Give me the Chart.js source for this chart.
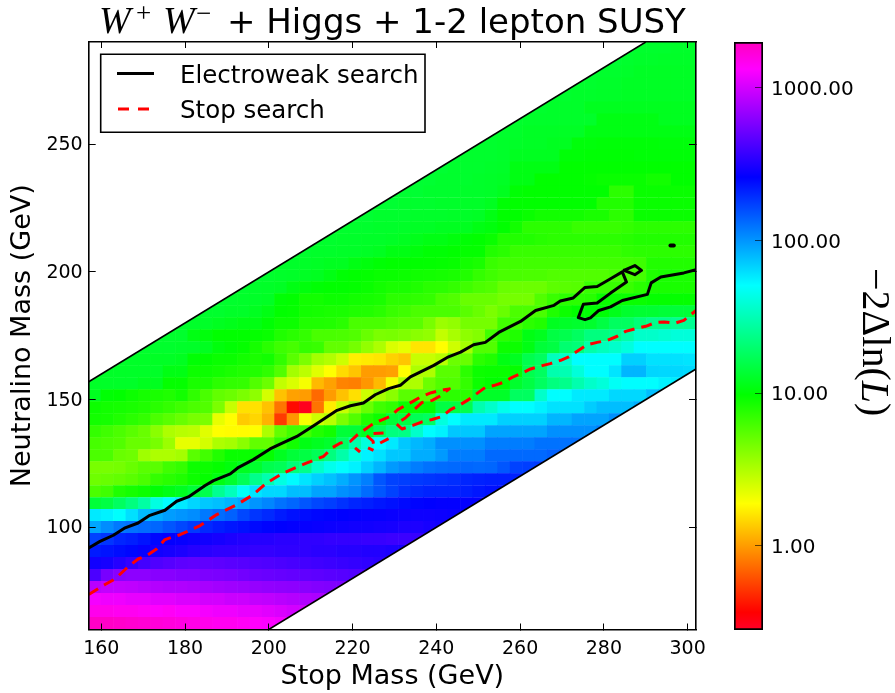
<!DOCTYPE html>
<html><head><meta charset="utf-8">
<script src="https://cdn.jsdelivr.net/npm/chart.js@4"></script>
<style>html,body{margin:0;padding:0;background:#fff}canvas{position:absolute;left:0;top:0}</style>
</head><body>
<canvas id="main" width="895" height="693"></canvas>
<canvas id="bar" width="895" height="693"></canvas>
<script>
const titleMath=['W','+','W','−'];
const titleText='+ Higgs + 1-2 lepton SUSY';
const xLabel='Stop Mass (GeV)';
const yLabel='Neutralino Mass (GeV)';
const legendLabels=['Electroweak search','Stop search'];
const colorbarTicks=[1,10,100,1000];
const xRange=[157,302], yRange=[60,290];
const valueRange=[0.28,2000];
const nBins=49;
const rowStart=[0,0,0,0,0,0,0,0,0,0,0,0,0,0,0,0,0,0,0,0,0,0,1,2,4,5,7,9,10,12,13,15,16,18,20,21,23,24,26,28,29,31,32,34,35,37,39,40,42];
const row00=[1900,1900,1850,1800,1750,1700,1650,1600,1550,1500,1450,1450,1400,1350,1300,1250,1200,1200];
const row01=[1500,1500,1450,1450,1400,1350,1400,1300,1300,1250,1200,1200,1150,1150,1100,1050,1000,980,950];
const row02=[1250,1200,1200,1150,1150,1100,1100,1050,1050,1000,1000,950,950,900,880,850,820,800,780,760,750];
const row03=[850,900,900,880,850,820,800,800,780,760,740,720,700,680,660,650,640,620,600,590,580,570];
const row04=[420,560,620,640,640,620,620,600,600,580,570,560,540,520,510,500,490,480,470,460,450,440,430,420];
const row05=[290,300,330,360,400,430,450,470,480,480,470,460,450,440,430,420,410,400,390,380,370,360,350,340,330,330];
const row06=[220,230,240,250,270,290,300,310,330,340,350,350,350,360,360,350,350,350,340,340,330,330,320,320,310,300,300];
const row07=[170,185,205,215,230,250,265,270,280,290,300,310,320,330,330,340,340,350,350,360,360,360,370,370,380,380,370,360,360];
const row08=[90,105,120,125,130,135,150,165,180,200,215,225,235,245,255,260,265,270,275,280,285,290,290,295,300,310,310,300,290,280];
const row09=[58,55,50,62,78,85,95,100,105,120,130,140,165,185,200,220,235,240,250,255,260,265,270,270,275,280,285,285,280,275,270,270];
const row10=[14,15,18,22,28,42,51,58,66,72,76,82,88,100,110,125,135,150,165,175,190,205,215,225,235,245,255,260,265,265,265,265,260];
const row11=[6,6.5,8,8.5,9,10,11,12,14,16,25,33,48,60,65,65,77,77,91,91,103,110,130,150,170,190,200,207,207,207,215,225,235,240,240,235,230];
const row12=[4.8,5,5.2,5.5,6,7,7.5,8,9,9.5,11,13,17,24,30,42,52,60,68,75,85,100,115,150,170,175,180,185,190,195,205,210,215,215,210,205,200,200];
const row13=[4.5,4.5,4.6,5,5.5,5.5,6.5,7,9,9,9.5,10.5,12,13,16,17,21,24,36,45,51,55,68,81,97,105,117,125,130,133,135,133,135,150,170,175,180,185,190];
const row14=[6,6,5,4.8,3.5,3.2,3.2,3.4,5.5,6.4,7.9,9.2,9.2,9.2,9.5,12,14,15,17,22,29,41,55,61,72,72,86,86,97,117,117,117,133,133,133,133,133,140,140,140];
const row15=[6.2,6,5.8,5,5,4.5,3.6,2.2,2.2,2.5,3.2,3.4,4,5.2,5.2,7.1,8.7,11,12,13,18,29,41,51,58,72,80,86,103,103,103,103,117,117,117,117,125,125,125,125,125];
const row16=[7,6.5,6,5.5,5,4,3.2,3,2.9,2.3,1.9,1.85,1.85,1.9,3.2,5.2,6.4,6.5,7.9,8.7,14,14,12,17,22,23,36,51,55,72,72,72,91,91,91,91,91,103,103,103,103,117,117,117];
const row17=[8.7,8.5,8,7.5,7,6,5.5,5,4.5,4.4,2.2,1.88,1.35,1.45,1.15,.53,.96,2,2.6,3,4.4,5.8,7.9,9,14,15,17,18,41,51,58,58,58,68,68,68,68,81,81,91,91,91,103,103,103,103,105,105,105];
const row18=[9,8.7,8.5,8.3,8,7.5,7,6.5,6,5.8,4.4,2.7,1.56,1.56,1.27,.77,.39,.3,.77,1.68,2.7,3.7,5,6.5,7.1,9.2,9.2,9.5,15,15,16,30,36,45,51,51,55,61,61,61,70,77,77,77,85,91,91,91,91];
const row19=[12,10,9.7,9,8.5,8.3,8,8.7,7.2,6.1,5.2,4.9,4.4,3.9,2.5,1.27,1.03,1,.72,1,1.27,1.55,2.6,3.4,4,5.5,5.5,5.5,7.4,7.4,7.4,12.6,12.6,12.6,18,18,36,51,51,58,58,58,65,65,65,77,77,77,77];
const row20=[12.6,12.6,12.6,12.6,11.9,11.9,9.5,9.5,8.3,8.3,7.4,7.1,7,5.8,4.9,2.8,2.4,2,1.2,1.03,.85,.83,.96,1.2,2,3.2,3.2,4.9,5.8,5.8,7,9,9.7,10,13,15,18,22,24,30,36,40,48,51,51,51,55,57,58];
const row21=[12.6,12.6,12.6,12.6,12.6,12.6,11,11,9,9,8.7,8.3,8,7.9,7.2,5.8,3.4,2.9,2.3,1.9,1.5,1.3,1,1,1.03,1.88,3.2,3.2,5.5,5.5,7.4,9,9.2,9.2,9.5,16,18,30,31,40,51,51,60,81,81,66,65,65,64];
const row22=[12.8,12.8,12.6,12.6,12.4,12.4,12,10,9.7,9.2,9.2,8.7,8.3,8.7,7.1,5.5,4.4,3.4,3.1,2.6,1.7,1.65,1.6,1.4,1.3,2.7,2.7,3,4.9,5,7.4,8,11,12,16,18,33,36,51,51,51,51,68,68,61,61,61,60];
const row23=[13,13,13,13,13,12.8,12.6,12,10.5,10,9.5,8.5,7.5,6.6,6.2,7,6.8,5.2,5.2,4.6,3.8,3.2,2.4,2.2,1.6,1.6,1.88,2.6,3.4,5.8,5.8,9,9,11,14,15,20,21,29,33,36,41,51,51,51,51,51];
const row24=[13,13,13,13,11,10.5,9.7,9.7,9.7,9.5,9.2,8,7.5,7,6.1,6.1,6,5.8,5,4.4,4.5,4.3,4,3.8,2.8,3.3,3.9,4.2,6.4,7.4,8,11,11.9,15,16,18,22,22,24,29,36,36,38,40,40];
const row25=[13,13,13,12.8,12.6,12,11.5,11,11,10,9,9,8,8,7.9,7.5,6.1,6.1,6.1,5.8,5.5,5.5,4.5,3.6,3.8,4.6,4.6,4.6,6.4,6.4,7.4,7.9,12,12.6,13,13,15,18,18,21,24,24,25,25];
const row26=[13,13,13,13,12.6,12.6,12,11,9.7,9.5,8.7,8.5,8.3,8.3,8,7.9,7.5,6.8,6.5,6,6,6,6,5.5,5,4.4,5,6,6,6.1,8,9,9.7,10,10,11.5,13,13.5,13.5,14,14,14];
const row27=[13,13,13,12.8,12.6,12.3,10,9.7,8.7,8.7,9,9,8.7,8.5,8.3,7.4,7.4,7.2,7,6,5.8,5,5,5,4.6,4.6,4.6,5.8,6.8,7.4,7.4,7.6,9.2,9.2,9.2,9.2,9.5,9.5,9.5,9.5];
const row28=[13,13,13,12.8,12.6,12.3,11,10.5,10,9.7,9.7,9.5,9.2,8.7,8.3,8.3,8,7.5,7.4,7,6.5,6,5.8,5,4.9,4.9,4.9,5.4,5.5,5.6,6.8,6.8,6.8,6.8,7.5,8.2,8.3,8.3,8.3];
const row29=[13,13,13,12.8,12.6,12.3,12,11,10,9.7,9.5,9.2,9.2,9,8.8,8.7,8.5,8.3,7.9,7,6.5,6.1,6.1,6,6,5.8,5.8,5.8,5.8,5.8,6.1,6.1,6.3,8,8.3,8.3,8.3];
const row30=[13,13,12.8,12.8,12.6,12.4,12,12,11,10.5,10,9.7,9.7,9.7,9.6,9.5,9.3,8.7,8.3,6.8,6.4,6.4,6.4,6.4,6.4,6.4,6.4,6.4,6.4,6.4,6.4,6.6,7.9,7.9,7.9,7.9];
const row31=[13,13,13,12.8,12.8,12.6,12.6,12.4,12,11,11,10.5,10,10,9.7,9.5,9.5,7.9,7.5,6.8,6.8,6.8,6.8,6.8,6.8,6.8,6.8,6.8,7.2,7.4,7.4,7.4,7.4,7.4];
const row32=[13,13,13,13,12.8,12.8,12.6,12.6,12.4,12,11.5,11,11,10.5,10,9.7,9.2,7.9,7.9,7.9,7.6,7.4,7.4,7.4,7.4,7.4,7.4,7.6,7.9,7.9,7.9,7.9,7.9];
const row33=[13.5,13.5,13,13,13,12.8,12.8,12.6,12.4,12.4,12,12,11.9,11,10.5,9.7,8.7,7.4,7.4,7.4,7.4,6.8,6.8,6.8,6.8,7,7.4,7.4,7.4,7.4,7.4];
const row34=[13.5,13.5,13.5,13,13,13,12.8,12.8,12.8,12.6,12.6,12.4,11,9.7,9.7,9.2,8.7,8.7,8.7,8.7,8.3,8.3,7.4,7.4,9.2,9.2,9.2,9.2,9.2];
const row35=[13.5,13.5,13.5,13.5,13,13,13,12.8,12.8,12.6,12.6,12,10,9.7,9.7,9.7,9.7,9.7,9.7,9.7,7.9,7.9,7.9,9.2,9.2,9.2,9.2,9.2];
const row36=[13.5,13.5,13.5,13.5,13,13,13,12.8,12.8,12.6,11.9,10,9.7,9.7,9.7,9.7,9.7,9.7,9.7,7.4,7.4,9.2,9.2,9.2,9.2,9.2];
const row37=[13.5,13.5,13.5,13.5,13,13,13,12.8,12.6,12.4,11,11,9.7,9.7,9.7,9.7,9.5,9.2,9.2,9.2,9.2,8.7,8.7,9.7,9.7];
const row38=[13.5,13.5,13.5,13,13,13,12.8,12.6,11,11,11,11,9.7,9.7,9.7,9.7,9.7,9.7,9.7,9.7,9.7,9.7,9.7];
const row39=[13.5,13.5,13,13,13,12.8,12,12,12,12,10.2,10.2,10,10,10,10,10.2,10.2,10.2,10.2,10.2];
const row40=[13.5,13.5,13,13,12.8,12.6,12.4,12.4,12,12,10.4,10.4,10.2,10.2,10.2,10.2,10.2,10.4,10.4,10.4];
const row41=[13.5,13,13,12.8,12.4,12.4,12.4,12.4,12.4,11,11,11,11,11,11,11,11,11];
const row42=[13.5,13.5,13,12.8,12.8,12.8,12.8,12.8,12.8,11,11,11,11,11,11.9,11.9,11.9];
const row43=[13.5,13,13,12.8,12.8,12.8,11.9,11.9,11.9,11.9,11.9,11.9,11.9,11.9,11.9];
const row44=[13.5,13.5,13,13,12.8,12.8,12.6,12.6,12.4,12.4,12.4,12.4,12.4,12.4];
const row45=[13.5,13.5,13,13,12.8,12.8,12.4,12.4,12.4,12.4,12.4,12.4];
const row46=[13.5,13.5,13,13,12.8,12.4,12.4,12.4,12.4,12.4];
const row47=[13.5,13.5,13.5,13,12.8,12.8,12.6,12.6,12.6];
const row48=[13.5,13.5,13,13,13,12.8,12.8];
const rows=[row00,row01,row02,row03,row04,row05,row06,row07,row08,row09,row10,row11,row12,row13,row14,row15,row16,row17,row18,row19,row20,row21,row22,row23,row24,row25,row26,row27,row28,row29,row30,row31,row32,row33,row34,row35,row36,row37,row38,row39,row40,row41,row42,row43,row44,row45,row46,row47,row48];

const upperEdge=[[157,157],[290,290]];
const lowerEdge=[[200,60],[302,162]];
const electroweak=[[157,91.9],[159.7,94.5],[162.9,96.9],[165.7,99.8],[168.8,101.7],[171.6,104.7],[175.2,106.7],[178,110.2],[180.8,111.9],[184.8,116.4],[186.8,118.3],[190.8,120.9],[192.8,123.5],[196.3,126.5],[200.3,130.7],[202.7,132.6],[206.7,135.6],[210.7,139.8],[216.3,145.8],[219.5,147.6],[222.6,148.7],[225.4,151.9],[228.6,154.3],[231.4,155.6],[233.8,158.9],[239.4,163.4],[242.6,166.5],[245.8,168.6],[248.9,171.5],[251.7,172.4],[254.9,176.3],[260.1,180.6],[263.7,184.9],[268.1,186.9],[269.6,188.6],[272.7,189.8],[275.5,193.9],[278.4,194.3],[281.6,197.3],[284.4,200],[285.4,196],[281.6,191.7],[278.4,187.8],[275.1,187.3],[273.9,182.1],[275.5,181.3],[276.8,182],[278.8,184.9],[281.6,186.3],[284.4,188.8],[290.4,191.2],[291.3,195.7],[293.6,198],[299.1,199.6],[302,200.9]];
const electroweakLoop=[[284.8,200.6],[287.4,202.5],[289,200.6],[287.4,198.9],[284.8,200.6]];
const electroweakDot=[[295.9,210.3],[296.7,210.3]];
const stopSearch=[[157,73.7],[160.9,77.6],[163.3,79.8],[166.5,84.7],[168.8,87.6],[170.9,89],[173.2,91.5],[175.2,95.2],[178.8,97.1],[183.6,100.7],[187.6,105],[192.4,108.9],[196.3,112.8],[199.5,117.4],[203.5,121.3],[209.1,125.2],[213.1,127.8],[215.1,131.1],[217.1,133],[219.5,133.7],[221.2,136.3],[224.6,140.2],[226.6,141.8],[229,143.4],[230.8,146.1],[234.2,149.1],[236.2,151],[238.8,152.7],[241.9,153.9],[243.1,154.2],[241,151.5],[239,149.7],[236.6,148.9],[234,145],[232.6,142.8],[230.4,140.6],[231.8,138.5],[234.4,139.9],[236.6,141.3],[239,142.2],[241.4,143.4],[243.4,146.1],[245.3,147.6],[247.7,150],[249.3,151.9],[251.7,154.8],[253.7,155.5],[256.1,156.8],[258.1,158.7],[260.5,160.4],[262.5,162],[265.3,163.3],[267.2,164.1],[269.7,165.4],[271.6,166.7],[274,169.3],[276,171.5],[278.4,172.4],[280.8,173.2],[283.2,174.8],[285.2,176.7],[287.6,177.8],[290,178.7],[292.4,180.2],[294.4,180.4],[297.1,180],[299.1,181],[302,184.9]];
const stopIsland1=[[220.6,131.1],[221.8,129.5]];
const stopIsland2=[[223.7,131.1],[225,130.1]];
const stopIsland3=[[223.4,135.9],[224.9,133.7],[225,132.4]];
const stopIsland4=[[225,136.7],[227.4,136.9]];
const stopIsland5=[[226.6,133],[228.6,134.7]];

const rainbow=[[0,[255,0,41]],[.03,[255,0,0]],[.215,[255,255,0]],[.4,[0,255,0]],[.586,[0,255,255]],[.77,[0,0,255]],[.954,[255,0,255]],[1,[255,0,191]]];
function cmap(v){
  const a=Math.log10(valueRange[0]),b=Math.log10(valueRange[1]);
  const t=Math.min(1,Math.max(0,(Math.log10(v)-a)/(b-a)));
  for(let i=1;i<rainbow.length;i++){
    if(t<=rainbow[i][0]){
      const [t0,c0]=rainbow[i-1],[t1,c1]=rainbow[i],f=(t-t0)/(t1-t0);
      return 'rgb('+c0.map((c,k)=>Math.round(c+(c1[k]-c)*f)).join(',')+')';
    }
  }
  return 'rgb(255,0,191)';
}
const pts=a=>a.map(p=>({x:p[0],y:p[1]}));
const dx=(xRange[1]-xRange[0])/nBins, dy=(yRange[1]-yRange[0])/nBins;
const datasets=[];
rows.forEach((row,j)=>{
  const lo=yRange[0]+j*dy, hi=lo+dy*1.04;
  datasets.push({type:'bar',order:100,grouped:false,categoryPercentage:1,barPercentage:1.05,borderWidth:0,
    data:row.map((v,k)=>({x:xRange[0]+(rowStart[j]+k+.5)*dx,y:[lo,hi]})),
    backgroundColor:row.map(cmap)});
});
const edge=(d,fill)=>({type:'scatter',order:10,showLine:true,data:pts(d),fill,backgroundColor:'#fff',borderColor:'#000',borderWidth:1.6,pointRadius:0});
datasets.push(edge(upperEdge,'end'),edge(lowerEdge,'start'));
const curve=(d,color,dash,w)=>({type:'scatter',order:1,showLine:true,data:pts(d),fill:false,borderColor:color,borderWidth:w||3,borderDash:dash,pointRadius:0,tension:0,borderJoinStyle:'round',borderCapStyle:'round'});
datasets.push(curve(electroweak,'#000',[]),curve(electroweakLoop,'#000',[]),curve(electroweakDot,'#000',[],4));
const redLine=d=>{const o=curve(d,'#f00',[11,7]);o.borderCapStyle='butt';return o;};
datasets.push(redLine(stopSearch));
[stopIsland1,stopIsland2,stopIsland3,stopIsland4,stopIsland5].forEach(d=>datasets.push(redLine(d)));

const FONT='"DejaVu Sans"';
const tickFont={family:FONT,size:19};
const overlay={id:'overlay',afterDraw(c){
  const g=c.ctx;g.save();g.fillStyle='#000';g.textBaseline='alphabetic';g.textAlign='left';
  g.font='italic 38px "Liberation Serif"';
  g.fillText(titleMath[0],99,33);g.fillText(titleMath[2],163,33);
  g.font='27px "Liberation Serif"';
  g.fillText(titleMath[1],136,22);g.fillText(titleMath[3],196,22);
  g.font='34px '+FONT;g.fillText(titleText,227,33);
  g.fillStyle='#fff';g.strokeStyle='#000';g.lineWidth=1.6;
  g.beginPath();g.rect(100.7,54.3,324.3,78);g.fill();g.stroke();
  g.lineWidth=3;g.beginPath();g.moveTo(117,73.5);g.lineTo(154,73.5);g.stroke();
  g.strokeStyle='#f00';g.setLineDash([11,9]);g.beginPath();g.moveTo(118,109);g.lineTo(150,109);g.stroke();g.setLineDash([]);
  g.fillStyle='#000';g.font='24.5px '+FONT;
  g.fillText(legendLabels[0],180,82.5);g.fillText(legendLabels[1],180,117.5);
  g.restore();
}};
new Chart(document.getElementById('main'),{
  data:{datasets},
  plugins:[overlay],
  options:{responsive:false,animation:false,devicePixelRatio:1,
    layout:{padding:{left:0,top:42,right:199,bottom:0}},
    plugins:{legend:{display:false},tooltip:{enabled:false},title:{display:false}},
    scales:{
      x:{type:'linear',position:'bottom',min:xRange[0],max:xRange[1],offset:false,
        ticks:{stepSize:20,includeBounds:false,padding:14,font:tickFont,color:'#000',maxRotation:0,autoSkip:false},
        grid:{drawOnChartArea:false,tickLength:-6,color:'#000',z:1,offset:false},border:{color:'#000',width:1.6,z:1},
        title:{display:true,text:xLabel,font:{family:FONT,size:27},color:'#000',padding:{top:0,bottom:0}},
        afterFit(s){s.height=63.5;s.paddingLeft=0;s.paddingRight=0}},
      y:{type:'linear',position:'left',min:yRange[0],max:yRange[1],
        ticks:{stepSize:50,includeBounds:false,padding:13,labelOffset:1,font:tickFont,color:'#000',autoSkip:false},
        grid:{drawOnChartArea:false,tickLength:-7,color:'#000',z:1},border:{color:'#000',width:1.6,z:1},
        title:{display:true,text:yLabel,font:{family:FONT,size:27},color:'#000',padding:{top:7,bottom:0}},
        afterFit(s){s.width=88.7;s.paddingTop=0;s.paddingBottom=0}},
      x2:{type:'linear',axis:'x',position:'top',min:xRange[0],max:xRange[1],
        ticks:{stepSize:20,includeBounds:false,display:false},
        grid:{drawOnChartArea:false,tickLength:-6,color:'#000',z:1},border:{color:'#000',width:1.6,z:1},
        afterFit(s){s.height=0;s.paddingLeft=0;s.paddingRight=0}},
      y2:{type:'linear',axis:'y',position:'right',min:yRange[0],max:yRange[1],
        ticks:{stepSize:50,includeBounds:false,display:false},
        grid:{drawOnChartArea:false,tickLength:-7,color:'#000',z:1},border:{color:'#000',width:1.6,z:1},
        afterFit(s){s.width=0;s.paddingTop=0;s.paddingBottom=0}}
    }}
});
function barFill(ctx){
  const a=ctx.chart.chartArea;if(!a)return '#f00';
  const g=ctx.chart.ctx.createLinearGradient(0,a.bottom,0,a.top);
  rainbow.forEach(([t,c])=>g.addColorStop(t,'rgb('+c.join(',')+')'));
  return g;
}
const barLabel={id:'barLabel',afterDraw(c){
  const g=c.ctx;g.save();g.translate(873,268);g.rotate(Math.PI/2);g.fillStyle='#000';g.textBaseline='middle';g.textAlign='left';
  let x=0;
  [['−2Δln(','40px "Liberation Serif"'],['L','italic 40px "Liberation Serif"'],[')','40px "Liberation Serif"']].forEach(([t,f])=>{g.font=f;g.fillText(t,x,0);x+=g.measureText(t).width;});
  g.restore();
}};
new Chart(document.getElementById('bar'),{
  type:'bar',plugins:[barLabel],
  data:{labels:[''],datasets:[{data:[valueRange],backgroundColor:barFill,borderColor:'#000',borderWidth:2,borderSkipped:false,categoryPercentage:1,barPercentage:1}]},
  options:{responsive:false,animation:false,devicePixelRatio:1,
    layout:{padding:{left:734,top:42,right:0,bottom:63}},
    plugins:{legend:{display:false},tooltip:{enabled:false}},
    scales:{
      x:{display:false},
      y:{type:'logarithmic',position:'right',min:valueRange[0],max:valueRange[1],
        afterBuildTicks(s){s.ticks=colorbarTicks.map(v=>({value:v}))},
        ticks:{callback:v=>Number(v).toFixed(2),padding:16,labelOffset:2,font:{family:FONT,size:20},color:'#000',autoSkip:false},
        grid:{drawOnChartArea:false,tickLength:-8,color:'rgba(0,0,0,.6)',z:1},border:{display:false},
        afterFit(s){s.width=132;s.paddingTop=0;s.paddingBottom=0}}
    }}
});
</script>
</body></html>
